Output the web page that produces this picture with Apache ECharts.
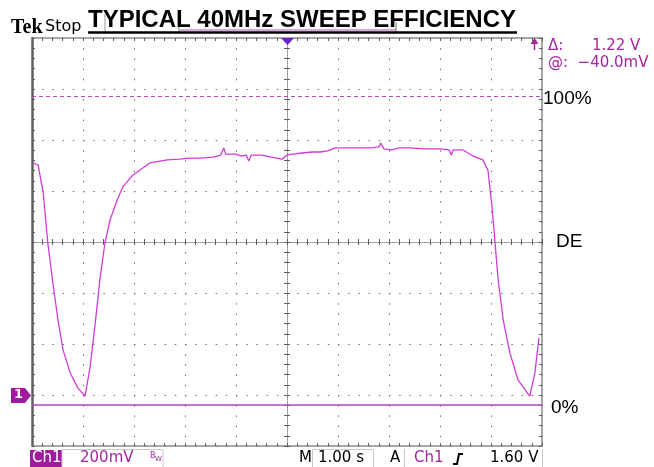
<!DOCTYPE html>
<html>
<head>
<meta charset="utf-8">
<script src="https://cdn.jsdelivr.net/npm/echarts@6/dist/echarts.min.js"></script>
<style>
html, body { margin: 0; padding: 0; background: #fff; }
#main { width: 654px; height: 467px; }
</style>
</head>
<body>
<div id="main"></div>
<script>
// time in seconds (1.00 s/div, 10 div), Ch1 in volts (200 mV/div)
var timeSec = [0.02, 0.12, 0.22, 0.31, 0.41, 0.51, 0.61, 0.75, 0.90, 1.04,
    1.14, 1.24, 1.33, 1.43, 1.53, 1.67, 1.78, 1.98, 2.31, 2.65,
    2.90, 3.10, 3.30, 3.55, 3.70, 3.76, 3.80, 4.00, 4.10, 4.20,
    4.25, 4.30, 4.50, 4.70, 4.90, 5.00, 5.10, 5.30, 5.50, 5.65,
    5.80, 5.95, 6.20, 6.45, 6.65, 6.80, 6.84, 6.90, 7.05, 7.20,
    7.40, 7.70, 8.00, 8.18, 8.22, 8.26, 8.45, 8.65, 8.84, 8.94,
    9.02, 9.08, 9.14, 9.24, 9.37, 9.53, 9.67, 9.76, 9.86, 9.94];
var ch1Volts = [0.910, 0.902, 0.792, 0.596, 0.439, 0.294, 0.176, 0.086, 0.027, -0.004,
    0.110, 0.282, 0.451, 0.596, 0.686, 0.765, 0.816, 0.863, 0.910, 0.922,
    0.925, 0.929, 0.929, 0.933, 0.941, 0.969, 0.945, 0.945, 0.937, 0.941,
    0.918, 0.941, 0.941, 0.933, 0.925, 0.941, 0.945, 0.949, 0.953, 0.953,
    0.957, 0.969, 0.969, 0.969, 0.969, 0.973, 0.988, 0.965, 0.961, 0.969,
    0.969, 0.965, 0.965, 0.961, 0.941, 0.961, 0.961, 0.937, 0.922, 0.882,
    0.737, 0.596, 0.451, 0.294, 0.165, 0.059, 0.020, -0.004, 0.086, 0.224];
// cursor levels: 100% and 0% as drawn
var cursorVolts = [1.17, -0.04];
var cursorNames = ['100%', '0%'];

var chartDom = document.getElementById('main');
var myChart = echarts.init(chartDom);

var traceData = timeSec.map(function (t, i) { return [t, ch1Volts[i]]; });

var purple = '#a4249f';
var frameGray = '#8a8a8a';
var tickGray = '#5e5e5e';

// one axis helper: dim x/y, interval (1 div or 1/5 div)
function scopeAxis(dim, pos, step, opts) {
    var a = {
        type: 'value',
        min: dim === 'x' ? 0 : -0.2,
        max: dim === 'x' ? 10 : 1.4,
        interval: step,
        position: pos,
        axisLine: { show: false, onZero: false },
        axisTick: { show: false },
        axisLabel: { show: false },
        splitLine: { show: false }
    };
    return Object.assign(a, opts || {});
}
var dotGrid = { show: true, lineStyle: { color: '#6e6e6e', width: 1, type: [1.5, 8.7] } };
var fineTicks = function (inside) {
    return { show: true, inside: inside, length: 3, lineStyle: { color: tickGray, width: 1 } };
};
var crossLine = { show: true, onZero: false, lineStyle: { color: '#8a8a8a', width: 1, type: [1, 1] } };

var option = {
    backgroundColor: '#fff',
    animation: false,
    grid: { left: 32, top: 38, right: 112, bottom: 21 },
    xAxis: [
        scopeAxis('x', 'bottom', 1, {
            splitLine: dotGrid,
            axisLine: { show: true, onZero: false, lineStyle: { color: frameGray, width: 1.5 } }
        }),
        scopeAxis('x', 'bottom', 0.2, { axisTick: fineTicks(true) }),
        scopeAxis('x', 'top', 0.2, {
            axisTick: fineTicks(true),
            axisLine: { show: true, onZero: false, lineStyle: { color: frameGray, width: 1.5 } }
        }),
        // centre crosshair, ticks both sides
        scopeAxis('x', 'bottom', 0.2, { offset: -204, axisLine: crossLine, axisTick: fineTicks(true) }),
        scopeAxis('x', 'bottom', 0.2, { offset: -204, axisTick: fineTicks(false) })
    ],
    yAxis: [
        scopeAxis('y', 'left', 0.2, {
            splitLine: dotGrid,
            axisLine: { show: true, onZero: false, lineStyle: { color: '#5e5e5e', width: 2.5 } }
        }),
        scopeAxis('y', 'left', 0.04, { axisTick: fineTicks(true) }),
        scopeAxis('y', 'right', 0.04, {
            axisTick: fineTicks(true),
            axisLine: { show: true, onZero: false, lineStyle: { color: frameGray, width: 1.5 } }
        }),
        scopeAxis('y', 'left', 0.04, { offset: -255, axisLine: crossLine, axisTick: fineTicks(true) }),
        scopeAxis('y', 'left', 0.04, { offset: -255, axisTick: fineTicks(false) })
    ],
    series: [
        {
            name: 'Ch1',
            type: 'line',
            xAxisIndex: 0,
            yAxisIndex: 0,
            data: traceData,
            symbol: 'none',
            z: 4,
            lineStyle: { color: '#d23ad6', width: 1.3 },
            markLine: {
                silent: true,
                symbol: 'none',
                label: { show: false },
                data: [
                    { yAxis: cursorVolts[0], lineStyle: { color: '#b04cb4', type: [4, 3], width: 1.2 } },
                    { yAxis: cursorVolts[1], lineStyle: { color: '#b646c6', type: 'solid', width: 1.5 } }
                ]
            }
        }
    ],
    graphic: [
        // record bar behind the title
        { type: 'line', shape: { x1: 180, y1: 30, x2: 396, y2: 30 }, style: { stroke: '#b050c0', lineWidth: 1 }, z: 1 },
        { type: 'line', shape: { x1: 105, y1: 14, x2: 105, y2: 34 }, style: { stroke: '#999', lineWidth: 1 }, z: 1 },
        { type: 'line', shape: { x1: 179, y1: 22, x2: 179, y2: 34 }, style: { stroke: '#777', lineWidth: 1 }, z: 1 },
        { type: 'line', shape: { x1: 396, y1: 22, x2: 396, y2: 34 }, style: { stroke: '#777', lineWidth: 1 }, z: 1 },
        {
            type: 'text', left: 11, top: 18, z: 5,
            style: { text: 'Tek', font: 'bold 20px "Liberation Serif"', fill: '#000' }
        },
        {
            type: 'text', left: 45, top: 19, z: 5,
            style: { text: 'Stop', font: '16px "DejaVu Sans"', fill: '#000' }
        },
        {
            type: 'text', x: 302, y: 8, z: 5,
            style: { text: 'TYPICAL 40MHz SWEEP EFFICIENCY', font: 'bold 24px "Liberation Sans"', fill: '#000', align: 'center' }
        },
        { type: 'line', shape: { x1: 88, y1: 32.5, x2: 517, y2: 32.5 }, style: { stroke: '#000', lineWidth: 2.5 }, z: 5 },
        // trigger position marker and cursor arrow
        { type: 'polygon', shape: { points: [[281, 38], [294, 38], [287.5, 45]] }, style: { fill: '#6a1fd0' }, z: 6 },
        { type: 'polygon', shape: { points: [[530.5, 44], [538.5, 44], [534.5, 38]] }, style: { fill: purple }, z: 6 },
        { type: 'line', shape: { x1: 534.5, y1: 43, x2: 534.5, y2: 50 }, style: { stroke: purple, lineWidth: 1.5 }, z: 6 },
        // cursor readouts
        {
            type: 'text', left: 548, top: 39, z: 5,
            style: { text: '\u0394:      1.22 V', font: '15px "DejaVu Sans"', fill: purple }
        },
        {
            type: 'text', left: 548, top: 56, z: 5,
            style: { text: '@:  \u221240.0mV', font: '15px "DejaVu Sans"', fill: purple }
        },
        // right labels
        {
            type: 'text', left: 543, top: 89, z: 5,
            style: { text: cursorNames[0], font: '19px "Liberation Sans"', fill: '#000' }
        },
        {
            type: 'text', left: 556, top: 232, z: 5,
            style: { text: 'DE', font: '19px "Liberation Sans"', fill: '#000' }
        },
        {
            type: 'text', left: 551, top: 398, z: 5,
            style: { text: cursorNames[1], font: '19px "Liberation Sans"', fill: '#000' }
        },
        // ground marker
        { type: 'rect', shape: { x: 11, y: 388, width: 14, height: 15 }, style: { fill: '#a01a9e' }, z: 6 },
        { type: 'polygon', shape: { points: [[25, 388], [31, 395.5], [25, 403]] }, style: { fill: '#a01a9e' }, z: 6 },
        {
            type: 'text', left: 14, top: 388, z: 7,
            style: { text: '1', font: 'bold 13px "DejaVu Sans"', fill: '#fff' }
        },
        // status bar
        { type: 'rect', shape: { x: 30, y: 450, width: 32, height: 17 }, style: { fill: '#a01a9e' }, z: 6 },
        {
            type: 'text', left: 32, top: 451, z: 7,
            style: { text: 'Ch1', font: '15px "DejaVu Sans"', fill: '#fff' }
        },
        { type: 'rect', shape: { x: 62, y: 449.5, width: 101, height: 18 }, style: { fill: 'none', stroke: '#c8c8c8', lineWidth: 1 }, z: 6 },
        {
            type: 'text', left: 80, top: 451, z: 7,
            style: { text: '200mV', font: '15px "DejaVu Sans"', fill: purple }
        },
        {
            type: 'text', left: 150, top: 452, z: 7,
            style: { text: 'B', font: '8px "DejaVu Sans"', fill: purple }
        },
        {
            type: 'text', left: 155, top: 456, z: 7,
            style: { text: 'W', font: '7px "DejaVu Sans"', fill: purple }
        },
        {
            type: 'text', left: 299, top: 451, z: 7,
            style: { text: 'M', font: '15px "DejaVu Sans"', fill: '#000' }
        },
        { type: 'rect', shape: { x: 312.5, y: 449.5, width: 61, height: 18 }, style: { fill: 'none', stroke: '#c8c8c8', lineWidth: 1 }, z: 6 },
        {
            type: 'text', left: 318, top: 451, z: 7,
            style: { text: '1.00 s', font: '15px "DejaVu Sans"', fill: '#000' }
        },
        {
            type: 'text', left: 390, top: 451, z: 7,
            style: { text: 'A', font: '15px "DejaVu Sans"', fill: '#000' }
        },
        { type: 'line', shape: { x1: 404.5, y1: 449, x2: 404.5, y2: 467 }, style: { stroke: '#c8c8c8', lineWidth: 1 }, z: 6 },
        {
            type: 'text', left: 414, top: 451, z: 7,
            style: { text: 'Ch1', font: '15px "DejaVu Sans"', fill: purple }
        },
        {
            type: 'polyline', z: 7,
            shape: { points: [[453, 464], [457, 464], [459, 454], [463, 454]] },
            style: { stroke: '#000', lineWidth: 2, fill: 'none' }
        },
        {
            type: 'text', left: 490, top: 451, z: 7,
            style: { text: '1.60 V', font: '15px "DejaVu Sans"', fill: '#000' }
        },
        { type: 'line', shape: { x1: 542.5, y1: 449, x2: 542.5, y2: 467 }, style: { stroke: '#c8c8c8', lineWidth: 1 }, z: 6 }
    ]
};

option && myChart.setOption(option);
</script>
</body>
</html>
